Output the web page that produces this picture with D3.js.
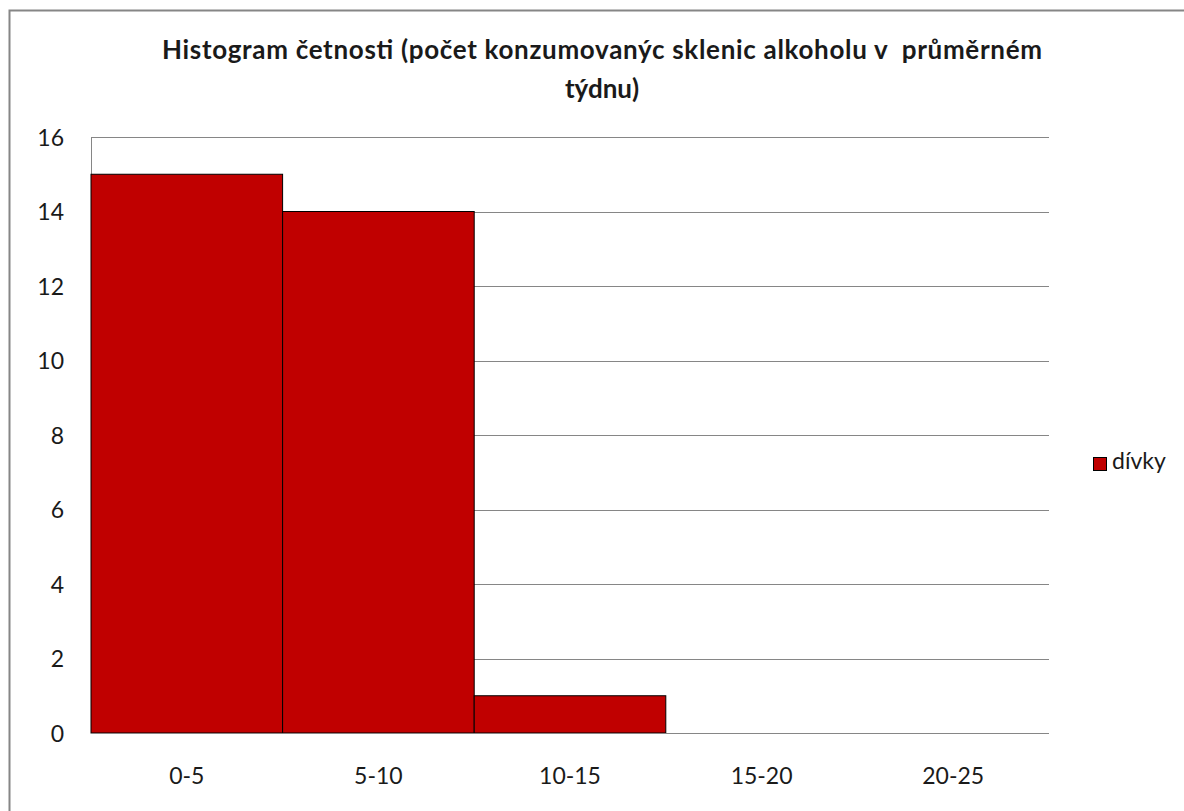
<!DOCTYPE html>
<html>
<head>
<meta charset="utf-8">
<script src="https://cdn.jsdelivr.net/npm/d3@7"></script>
<style>
  html, body { margin: 0; padding: 0; background: #fff; }
  svg { display: block; }
  text { font-family: Lato, "Open Sans", sans-serif; fill: #1a1a1a; white-space: pre; }
</style>
</head>
<body>
<svg id="chart" width="1184" height="811"></svg>
<script>
// Histogram bins and girls' counts per bin
const categories = ["0-5", "5-10", "10-15", "15-20", "20-25"];
const divky = [15, 14, 1, 0, 0];
const yTicks = [0, 2, 4, 6, 8, 10, 12, 14, 16];
const seriesName = "dívky";
const titleLines = ["Histogram četnosti (počet konzumovanýc sklenic alkoholu v  průměrném", "týdnu)"];

const svg = d3.select("#chart");
const W = 1184, H = 811;
const plot = { left: 91, right: 1049, top: 137, bottom: 733 };

// outer chart frame (extends beyond the visible area on the right and bottom)
svg.append("rect")
  .attr("x", 9.5).attr("y", 10.5)
  .attr("width", W + 20).attr("height", H + 20)
  .attr("fill", "#fff").attr("stroke", "#868686").attr("stroke-width", 2);

const x = d3.scaleBand().domain(categories).range([plot.left, plot.right]).paddingInner(0).paddingOuter(0);
const y = d3.scaleLinear().domain([0, 16]).range([plot.bottom, plot.top]);

// gridlines
svg.append("g").selectAll("line").data(yTicks).join("line")
  .attr("x1", plot.left).attr("x2", plot.right)
  .attr("y1", d => Math.round(y(d)) + 0.5).attr("y2", d => Math.round(y(d)) + 0.5)
  .attr("stroke", "#868686").attr("stroke-width", 1);

// left axis line
svg.append("line")
  .attr("x1", plot.left + 0.5).attr("x2", plot.left + 0.5)
  .attr("y1", plot.top).attr("y2", plot.bottom)
  .attr("stroke", "#868686");

// bars
svg.append("g").selectAll("rect").data(divky).join("rect")
  .attr("x", (d, i) => x(categories[i]))
  .attr("width", x.bandwidth())
  .attr("y", d => y(d))
  .attr("height", d => y(0) - y(d))
  .attr("fill", "#c00000")
  .attr("stroke", d => d > 0 ? "#000" : "none")
  .attr("stroke-width", 1);

// baseline on top of bars
svg.append("line")
  .attr("x1", plot.left).attr("x2", plot.right)
  .attr("y1", Math.round(y(0)) + 0.5).attr("y2", Math.round(y(0)) + 0.5)
  .attr("stroke", "#868686");

// y tick labels
svg.append("g").selectAll("text").data(yTicks).join("text")
  .attr("x", 64).attr("y", d => y(d) + 8.5)
  .attr("text-anchor", "end")
  .attr("font-size", 23)
  .text(d => d);

// x category labels
svg.append("g").selectAll("text").data(categories).join("text")
  .attr("x", d => x(d) + x.bandwidth() / 2)
  .attr("y", 784)
  .attr("text-anchor", "middle")
  .attr("font-size", 23)
  .text(d => d);

// title
svg.append("g").selectAll("text").data(titleLines).join("text")
  .attr("x", 602).attr("y", (d, i) => 59 + i * 39)
  .attr("text-anchor", "middle")
  .attr("font-size", 26)
  .attr("font-weight", "bold")
  .attr("textLength", (d, i) => i === 0 ? 880 : null)
  .attr("lengthAdjust", "spacing")
  .text(d => d);

// legend
const lg = svg.append("g").attr("transform", "translate(1093,457)");
lg.append("rect").attr("x", 0.5).attr("y", 0.5).attr("width", 13).attr("height", 13)
  .attr("fill", "#c00000").attr("stroke", "#000");
lg.append("text").attr("x", 19).attr("y", 12).attr("font-size", 23).text(seriesName);
</script>
</body>
</html>
